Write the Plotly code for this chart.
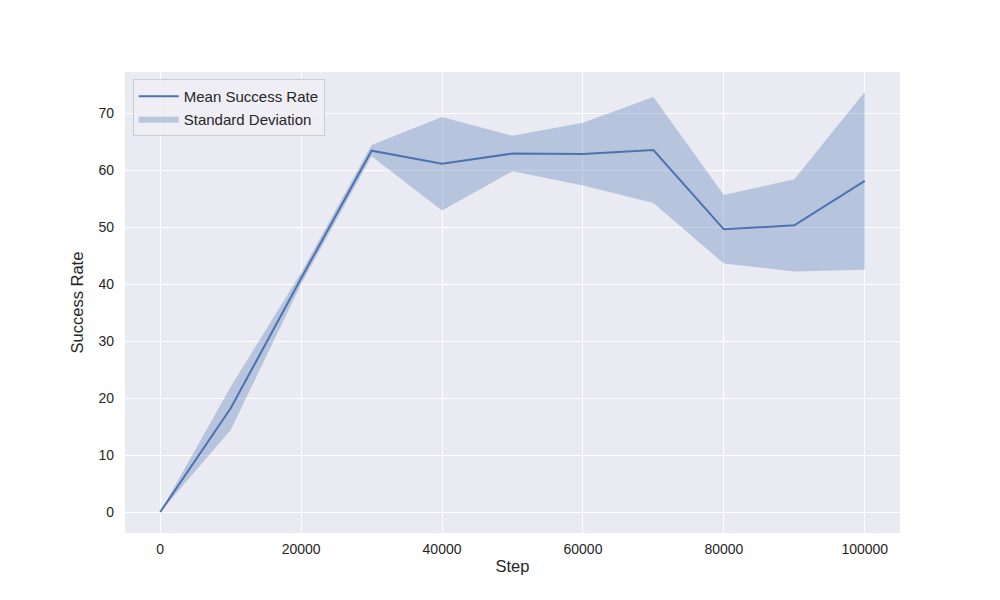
import plotly.graph_objects as go

steps = [0, 10000, 20000, 30000, 40000, 50000, 60000, 70000, 80000, 90000, 100000]
mean_rate = [0.0, 18.2, 41.0, 63.4, 61.1, 62.9, 62.8, 63.5, 49.6, 50.3, 58.1]
std_rate = [0.0, 3.8, 1.0, 1.0, 8.2, 3.1, 5.5, 9.3, 6.0, 8.1, 15.6]

upper = [m + s for m, s in zip(mean_rate, std_rate)]
lower = [m - s for m, s in zip(mean_rate, std_rate)]

blue = '#4C72B0'
font = 'Liberation Sans, Arial, sans-serif'

fig = go.Figure()
fig.add_trace(go.Scatter(
    x=steps, y=lower, mode='lines', line=dict(width=0, color=blue),
    showlegend=False, hoverinfo='skip'
))
fig.add_trace(go.Scatter(
    x=steps, y=upper, mode='lines', line=dict(width=0, color=blue),
    fill='tonexty', fillcolor='rgba(76,114,176,0.32)',
    name='Standard Deviation', legendrank=2
))
fig.add_trace(go.Scatter(
    x=steps, y=mean_rate, mode='lines', line=dict(width=2, color=blue),
    name='Mean Success Rate', legendrank=1
))

fig.update_layout(
    width=1000, height=600,
    margin=dict(l=117, r=108, t=64, b=75),
    paper_bgcolor='white', plot_bgcolor='#EAEAF2',
    font=dict(family=font, size=14, color='#262626'),
    legend=dict(
        x=0.01, y=0.985, xanchor='left', yanchor='top', traceorder='normal',
        bgcolor='rgba(238,238,244,0.9)', bordercolor='#cccccc', borderwidth=1,
        font=dict(size=15), tracegroupgap=0, itemwidth=40
    ),
    xaxis=dict(
        title=dict(text='Step', font=dict(size=16.5), standoff=4),
        range=[-5000, 105000], tickvals=[0, 20000, 40000, 60000, 80000, 100000],
        ticktext=['0', '20000', '40000', '60000', '80000', '100000'],
        showgrid=True, gridcolor='white', gridwidth=1.3, zeroline=False,
        showline=False, ticks='', ticklabelstandoff=6
    ),
    yaxis=dict(
        title=dict(text='Success Rate', font=dict(size=16.5), standoff=10),
        range=[-3.675, 77.2], tickvals=[0, 10, 20, 30, 40, 50, 60, 70],
        showgrid=True, gridcolor='white', gridwidth=1.3, zeroline=False,
        showline=False, ticks='', ticklabelstandoff=10
    ),
)

fig.write_html('out.html')
